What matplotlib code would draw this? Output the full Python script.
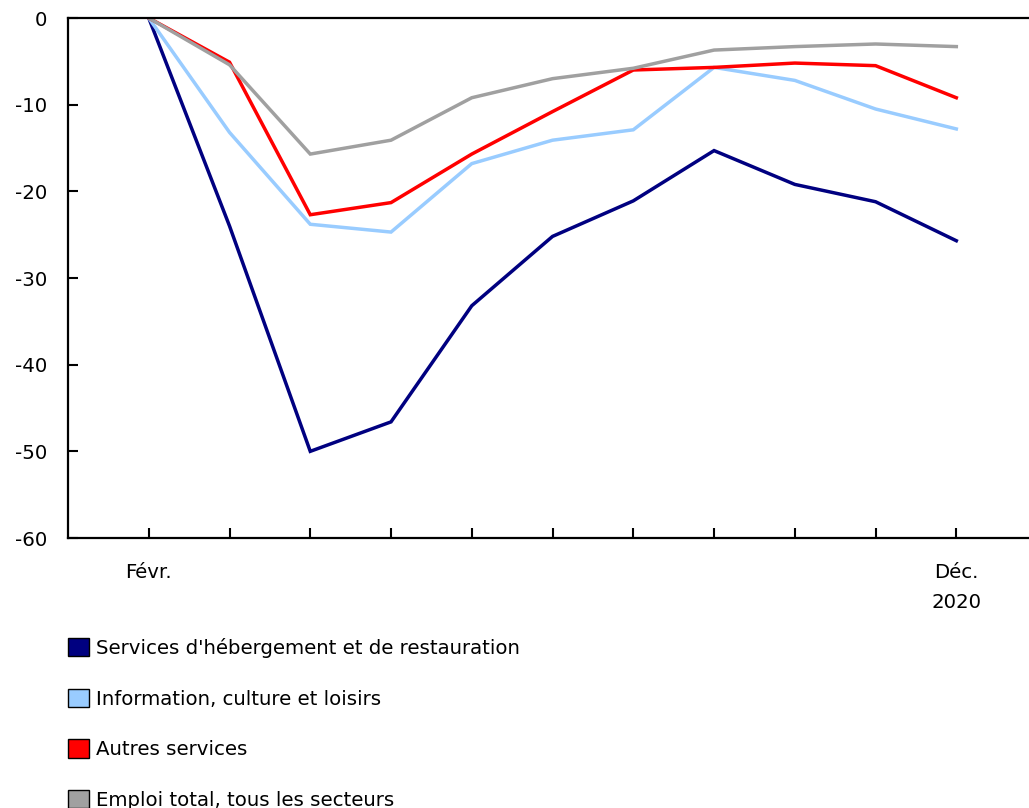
import matplotlib

matplotlib.use("Agg")

import matplotlib.pyplot as plt
from matplotlib.patches import Patch

# =====================
# DATA
# =====================

months = ["Févr.", "Mars", "Avr.", "Mai", "Juin", "Juil.", "Août",
          "Sept.", "Oct.", "Nov.", "Déc."]

hebergement = [0, -24.0, -50.0, -46.6, -33.2, -25.2, -21.1, -15.3, -19.2, -21.2, -25.7]
information = [0, -13.2, -23.8, -24.7, -16.8, -14.1, -12.9, -5.7, -7.2, -10.5, -12.8]
autres = [0, -5.1, -22.7, -21.3, -15.7, -10.8, -6.0, -5.7, -5.2, -5.5, -9.2]
total = [0, -5.4, -15.7, -14.1, -9.2, -7.0, -5.8, -3.7, -3.3, -3.0, -3.3]

series = [
    ("Services d'hébergement et de restauration", hebergement, "#000080"),
    ("Information, culture et loisirs", information, "#99CCFF"),
    ("Autres services", autres, "#FF0000"),
    ("Emploi total, tous les secteurs", total, "#A0A0A0"),
]

tick_labels = ["Févr."] + [""] * 9 + ["Déc.\n2020"]
y_ticks = [0, -10, -20, -30, -40, -50, -60]

# =====================
# PLOT
# =====================

plt.rcParams["font.family"] = ["DejaVu Sans"]
fs = 14.2

fig = plt.figure(figsize=(10.29, 8.08), dpi=100)
ax = fig.add_axes([68 / 1029, 1 - 538 / 808, 1 - 68 / 1029, 520 / 808])

x = list(range(len(months)))
for name, vals, color in series:
    ax.plot(x, vals, color=color, linewidth=2.5, label=name, solid_joinstyle="miter")

ax.set_xlim(-1.0, 10.9)
ax.set_ylim(-60, 0)

ax.set_xticks(x)
ax.set_xticklabels(tick_labels, fontsize=fs, linespacing=1.7)
ax.set_yticks(y_ticks)
ax.set_yticklabels([str(v) for v in y_ticks], fontsize=fs)

ax.tick_params(axis="x", direction="in", length=7, width=1.5, pad=18)
ax.tick_params(axis="y", direction="in", length=7, width=1.5, pad=15)

ax.spines["right"].set_visible(False)
for s in ["left", "bottom", "top"]:
    ax.spines[s].set_linewidth(1.6)

handles = [Patch(facecolor=c, edgecolor="black", linewidth=1.0) for _, _, c in series]
labels = [n for n, _, _ in series]
fig.legend(
    handles, labels,
    loc="upper left",
    bbox_to_anchor=(68 / 1029, 1 - 638 / 808),
    frameon=False,
    fontsize=fs,
    handlelength=1.05,
    handleheight=1.05,
    handletextpad=0.35,
    labelspacing=1.56,
    borderpad=0,
    borderaxespad=0,
)

fig.savefig("out.png", dpi=100)
plt.close(fig)
